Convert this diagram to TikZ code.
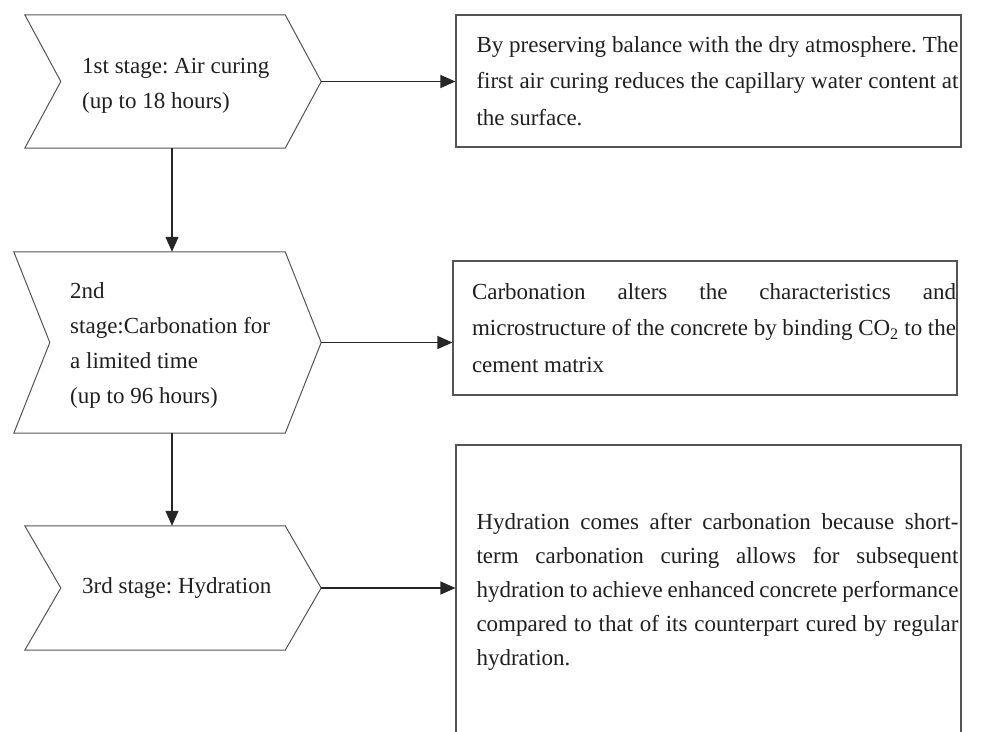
\documentclass[tikz,border=0pt]{standalone}
\usepackage{fontspec}
\setmainfont{Liberation Serif}
\usetikzlibrary{arrows.meta}
\definecolor{edgeclr}{gray}{0.33}
\definecolor{txtclr}{gray}{0.12}
\frenchspacing

\begin{document}
\begin{tikzpicture}[x=1pt, y=-1pt,
    stage/.style={minimum width=#1, inner sep=0pt},
    outline/.style={draw=edgeclr, line width=1pt},
    lbl/.style={anchor=west, align=left, inner sep=0pt, text=txtclr,
      font=\fontsize{23}{35}\selectfont},
    descbox/.style={draw=edgeclr, line width=1.1pt, minimum width=505,
      text width=500, align=justify, inner xsep=0pt, text=txtclr,
      execute at begin node={\leftskip=18pt},
      font=\fontsize{23}{36.5}\selectfont},
    arr/.style={-{Triangle[length=15pt,width=13pt]}, line width=1.2pt, draw=black!85}]
	\def\tipw{36}
	\clip (0,0) rectangle (990,731);
	
	% stage bodies (outline drawn below)
	\node[stage=260, minimum height=133] (s1) at (155,81.5) {};
	\node[stage=271, minimum height=181] (s2) at (149.5,342.5) {};
	\node[stage=260, minimum height=124] (s3) at (155,588) {};
	
	% chevron outlines
	\foreach \st in {s1,s2,s3}
	  \draw[outline] (\st.north west) -- (\st.north east) -- ([xshift=\tipw]\st.east)
	    -- (\st.south east) -- (\st.south west) -- ([xshift=\tipw]\st.west) -- cycle;
	
	% stage labels
	\node[lbl] (l1) at (82,86) {1st stage: Air curing\\(up to 18 hours)};
	\node[lbl] (l2) at (70,345) {2nd\\stage:Carbonation for\\a limited time\\(up to 96 hours)};
	\node[lbl] (l3) at (82,588) {3rd stage: Hydration};
	
	% description boxes
	\node[descbox, minimum height=132] (b1) at (708.5,81)
	  {By preserving balance with the dry atmosphere. The\linebreak
	   first air curing reduces the capillary water content at\linebreak
	   the surface.};
	\node[descbox, minimum width=504, text width=502, minimum height=134] (b2) at (705,328)
	  {Carbonation alters the characteristics and\linebreak
	   microstructure of the concrete by binding CO\textsubscript{2} to the\linebreak
	   cement matrix};
	\node[descbox, minimum height=294, font=\fontsize{23}{34}\selectfont] (b3) at (708.5,592)
	  {Hydration comes after carbonation because short-\linebreak
	   term carbonation curing allows for subsequent\linebreak
	   hydration to achieve enhanced concrete performance\linebreak
	   compared to that of its counterpart cured by regular\linebreak
	   hydration.};
	
	% connectors
	\draw[arr] ([xshift=\tipw]s1.east) -- (s1.east -| b1.west);
	\draw[arr] ([xshift=\tipw]s2.east) -- (s2.east -| b2.west);
	\draw[arr] ([xshift=\tipw]s3.east) -- (s3.east -| b3.west);
	\draw[arr] ([xshift=17]s1.south) -- ([xshift=17]s1.south |- s2.north);
	\draw[arr] ([xshift=22.5]s2.south) -- ([xshift=22.5]s2.south |- s3.north);
\end{tikzpicture}
\end{document}
